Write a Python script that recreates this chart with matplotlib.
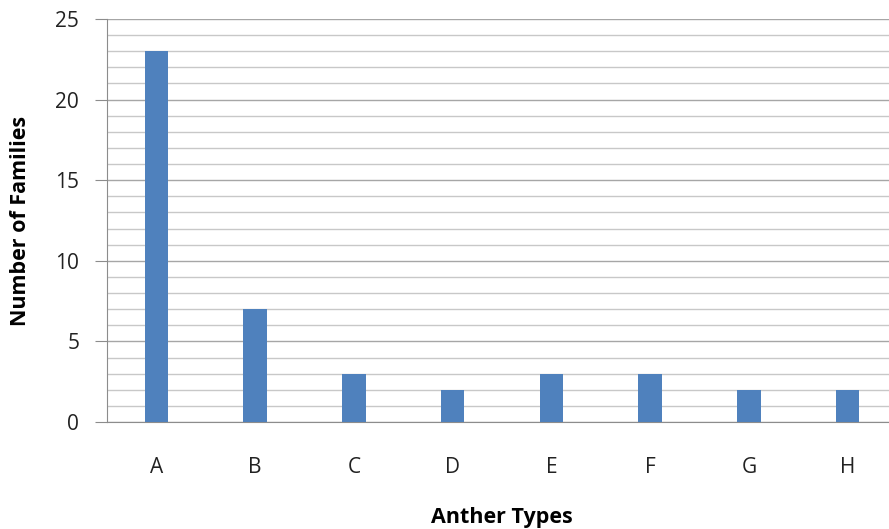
import matplotlib.pyplot as plt
import numpy as np

anther_types = ['A', 'B', 'C', 'D', 'E', 'F', 'G', 'H']
families = [23, 7, 3, 2, 3, 3, 2, 2]

plt.rcParams['font.family'] = ['Open Sans', 'DejaVu Sans']

fig = plt.figure(figsize=(8.89, 5.29), dpi=100)
ax = fig.add_axes([107 / 889, 107 / 529, 790 / 889, 403 / 529])

x = np.arange(len(anther_types))
ax.bar(x, families, width=0.24, color='#4F81BD', zorder=3)

ax.set_xlim(-0.5, len(anther_types) - 0.5)
ax.set_ylim(0, 25)
ax.set_yticks(range(0, 26, 5))
ax.set_yticks(range(0, 26), minor=True)
ax.set_xticks(x)
ax.set_xticklabels(anther_types)

ax.grid(axis='y', which='minor', color='#C8C8C8', linewidth=1.0, zorder=0)
ax.grid(axis='y', which='major', color='#A6A6A6', linewidth=1.0, zorder=1)

for s in ['top', 'right']:
    ax.spines[s].set_visible(False)
ax.spines['left'].set_color('#8C8C8C')
ax.spines['bottom'].set_color('#8C8C8C')

ax.tick_params(axis='y', which='major', length=9, color='#8C8C8C', labelsize=15, pad=11,
               labelcolor='#222222')
ax.tick_params(axis='y', which='minor', length=0)
ax.tick_params(axis='x', length=0, labelsize=15, pad=25, labelcolor='#222222')

ax.set_xlabel('Anther Types', fontsize=15.5, fontweight='bold')
ax.set_ylabel('Number of Families', fontsize=15.5, fontweight='bold')
ax.xaxis.label.set_va('center')
ax.xaxis.set_label_coords(0.5, -(517 - 422) / 403)
ax.yaxis.label.set_va('center')
ax.yaxis.set_label_coords(-(107 - 21) / 790, 0.5)

fig.savefig('out.png', dpi=100)
